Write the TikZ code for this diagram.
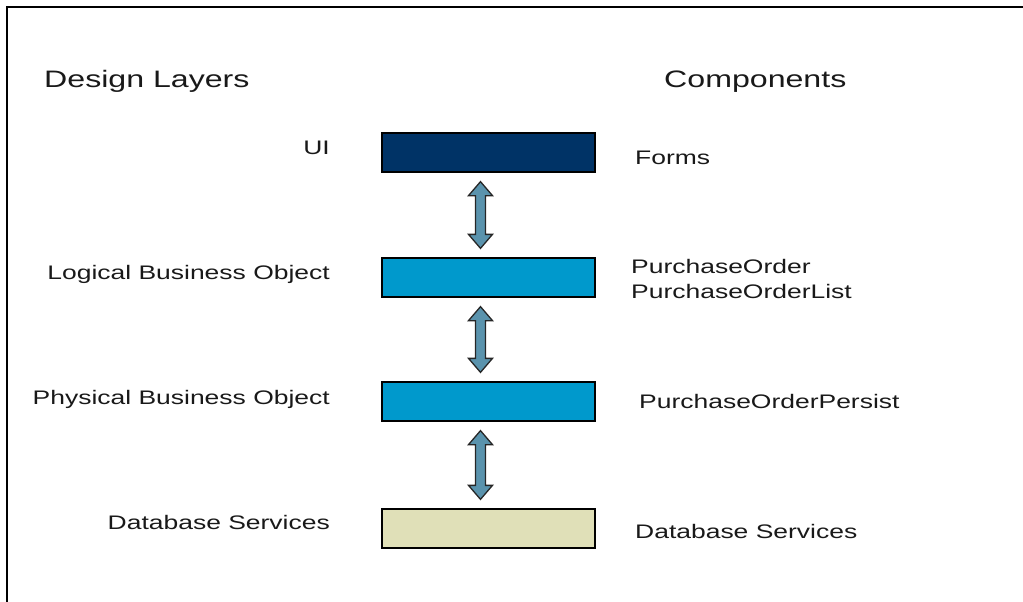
\documentclass[tikz,border=0pt]{standalone}
\usepackage{fontspec}
\setmainfont{Liberation Sans}[FakeStretch=1.35]
\usetikzlibrary{calc}
\definecolor{navy}{RGB}{0,51,102}
\definecolor{layerblue}{RGB}{0,153,204}
\definecolor{dbtan}{RGB}{224,224,184}
\definecolor{arrfill}{RGB}{90,147,173}
\tikzset{
  layerbox/.style={draw=black, line width=1.3pt, minimum width=213pt, minimum height=39pt, inner sep=0pt},
  dblarr/.style={draw=black!85, line width=1.3pt, fill=arrfill, line join=miter},
  lbl/.style={font=\fontsize{19.6}{23}\selectfont, inner sep=0pt, text=black!90},
  head/.style={font=\fontsize{23.8}{28}\selectfont, inner sep=0pt, text=black!90},
}
\newcommand\dblarrow[2]{%
  \draw[dblarr] let \p1=($(#1.south)+(-8,9)$), \p2=($(#2.north)+(-8,-9)$) in
    (\x1,\y1) -- (\x1+12pt,\y1-14pt) -- (\x1+5pt,\y1-14pt) -- (\x1+5pt,\y2+14pt)
    -- (\x1+12pt,\y2+14pt) -- (\x1,\y2) -- (\x1-12pt,\y2+14pt) -- (\x1-5pt,\y2+14pt)
    -- (\x1-5pt,\y1-14pt) -- (\x1-12pt,\y1-14pt) -- cycle;}
\begin{document}
\begin{tikzpicture}[x=1pt,y=-1pt]
\useasboundingbox (0,0) rectangle (1023,602);
\coordinate (fr1) at (7,602);
\coordinate (fr2) at (7,7);
\coordinate (fr3) at (1023,7);
\draw[line width=2pt, line join=miter] (fr1) -- (fr2) -- (fr3);

\node[head, anchor=base west] (hdl) at (44,88) {Design Layers};
\node[head, anchor=base west] (hcomp) at (664,88) {Components};

\node[layerbox, fill=navy] (ui) at (488.5,152.5) {};
\node[layerbox, fill=layerblue] (lbo) at (488.5,277.5) {};
\node[layerbox, fill=layerblue] (pbo) at (488.5,401.5) {};
\node[layerbox, fill=dbtan] (db) at (488.5,528.5) {};

\dblarrow{ui}{lbo}
\dblarrow{lbo}{pbo}
\dblarrow{pbo}{db}

\node[lbl, anchor=base east] (lui) at (330,154) {UI};
\node[lbl, anchor=base east] (llbo) at (330,279) {Logical Business Object};
\node[lbl, anchor=base east] (lpbo) at (330,404) {Physical Business Object};
\node[lbl, anchor=base east] (ldb) at (330,529) {Database Services};

\node[lbl, anchor=base west] (rforms) at (635,164) {Forms};
\node[lbl, anchor=base west] (rpo) at (631,273) {PurchaseOrder};
\node[lbl, anchor=base west] (rpol) at (631,298) {PurchaseOrderList};
\node[lbl, anchor=base west] (rpop) at (639,408) {PurchaseOrderPersist};
\node[lbl, anchor=base west] (rdb) at (635,538) {Database Services};
\end{tikzpicture}
\end{document}
